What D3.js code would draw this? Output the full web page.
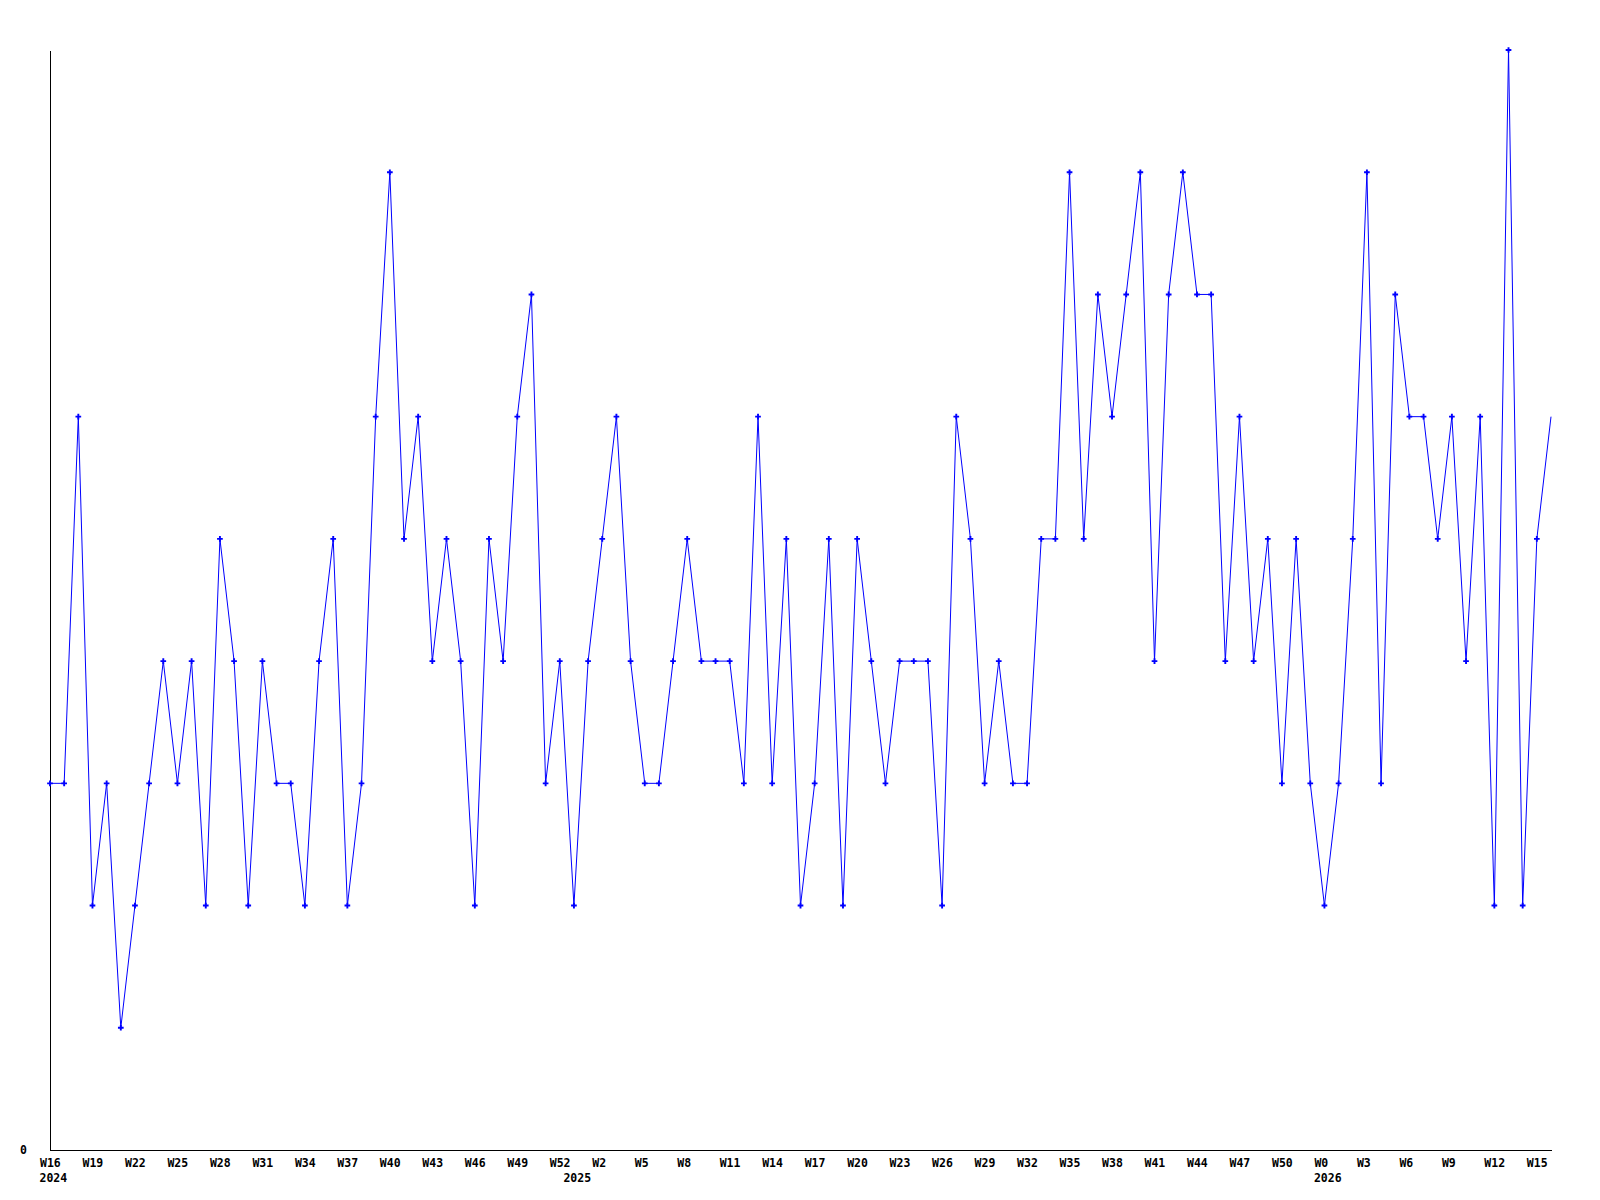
<!DOCTYPE html>
<html>
<head>
<meta charset="utf-8">
<script src="https://cdn.jsdelivr.net/npm/d3@7"></script>
<style>
  body { margin: 0; background: #fff; }
  svg text { font-family: "DejaVu Sans Mono", monospace; font-weight: bold; font-size: 11.5px; fill: #000; }
</style>
</head>
<body>
<script>
// Week labels per year
var weeks2024 = ["W16","W17","W18","W19","W20","W21","W22","W23","W24","W25","W26","W27","W28","W29","W30",
    "W31","W32","W33","W34","W35","W36","W37","W38","W39","W40","W41","W42","W43","W44","W45","W46","W47",
    "W48","W49","W50","W51","W52"];
var weeks2025 = ["W0","W1","W2","W3","W4","W5","W6","W7","W8","W9","W10","W11","W12","W13","W14","W15",
    "W16","W17","W18","W19","W20","W21","W22","W23","W24","W25","W26","W27","W28","W29","W30","W31","W32",
    "W33","W34","W35","W36","W37","W38","W39","W40","W41","W42","W43","W44","W45","W46","W47","W48","W49",
    "W50","W51","W52"];
var weeks2026 = ["W0","W1","W2","W3","W4","W5","W6","W7","W8","W9","W10","W11","W12","W13","W14","W15","W16"];
var yearLabels = ["2024", "2025", "2026"];

// Weekly counts
var values = [3,3,6,2,3,1,2,3,4,3,
              4,2,5,4,2,4,3,3,2,4,
              5,2,3,6,8,5,6,4,5,4,
              2,5,4,6,7,3,4,2,4,5,
              6,4,3,3,4,5,4,4,4,3,
              6,3,5,2,3,5,2,5,4,3,
              4,4,4,2,6,5,3,4,3,3,
              5,5,8,5,7,6,7,8,4,7,
              8,7,7,4,6,4,5,3,5,3,
              2,3,5,8,3,7,6,6,5,6,
              4,6,2,9,2,5,6];

var categories = [].concat(
    weeks2024.map(function(w) { return "2024 " + w; }),
    weeks2025.map(function(w) { return "2025 " + w; }),
    weeks2026.map(function(w) { return "2026 " + w; }));

var data = categories.map(function(c, i) { return {key: c, value: values[i]}; });

var width = 1600, height = 1200;
var margin = {left: 50, right: 1551, top: 50, bottom: 1150};

var x = d3.scalePoint().domain(categories).range([margin.left, margin.right]);
var y = d3.scaleLinear().domain([0, 9]).range([margin.bottom, margin.top]);

var svg = d3.select("body").append("svg")
    .attr("width", width)
    .attr("height", height);

svg.append("defs").append("clipPath").attr("id", "plot")
  .append("rect")
    .attr("x", margin.left - 10).attr("y", margin.top - 10)
    .attr("width", margin.right - margin.left + 6)
    .attr("height", margin.bottom - margin.top + 20);

// X axis: every third week
var xAxis = d3.axisBottom(x)
    .tickValues(categories.filter(function(d, i) { return i % 3 === 0; }))
    .tickFormat(function(d) { return d.split(" ")[1]; })
    .tickSize(0)
    .tickPadding(8);

var gx = svg.append("g")
    .attr("transform", "translate(0," + margin.bottom + ")")
    .call(xAxis)
    .attr("font-family", null).attr("font-size", null);
gx.select(".domain").attr("stroke", "#000").attr("shape-rendering", "crispEdges");
gx.selectAll(".tick text")
    .attr("text-anchor", "start")
    .attr("dx", -10.5)
    .attr("y", 17).attr("dy", 0);

// Year labels under the first week of each year
var yearStarts = ["2024 W16", "2025 W0", "2026 W0"];
svg.append("g").selectAll("text")
    .data(yearLabels)
  .enter().append("text")
    .attr("x", function(d, i) { return x(yearStarts[i]) - 10.5; })
    .attr("y", margin.bottom + 32)
    .text(function(d) { return d; });

// Y axis: only 0
var yAxis = d3.axisLeft(y)
    .tickValues([0])
    .tickSize(0)
    .tickPadding(23);

var gy = svg.append("g")
    .attr("transform", "translate(" + margin.left + ",0)")
    .call(yAxis)
    .attr("font-family", null).attr("font-size", null);
gy.select(".domain").attr("stroke", "#000").attr("shape-rendering", "crispEdges");
gy.selectAll(".tick text").attr("dy", "0.32em");

// Line
var line = d3.line()
    .x(function(d) { return x(d.key); })
    .y(function(d) { return y(d.value); });

svg.append("path")
    .datum(data)
    .attr("fill", "none")
    .attr("stroke", "#0000ff")
    .attr("stroke-width", 1)
    .attr("d", line);

// Markers
svg.append("g")
    .attr("clip-path", "url(#plot)")
  .selectAll("path")
    .data(data)
  .enter().append("path")
    .attr("transform", function(d) { return "translate(" + x(d.key) + "," + y(d.value) + ")"; })
    .attr("d", d3.symbol().type(d3.symbolCross).size(18))
    .attr("fill", "#0000ff");
</script>
</body>
</html>
